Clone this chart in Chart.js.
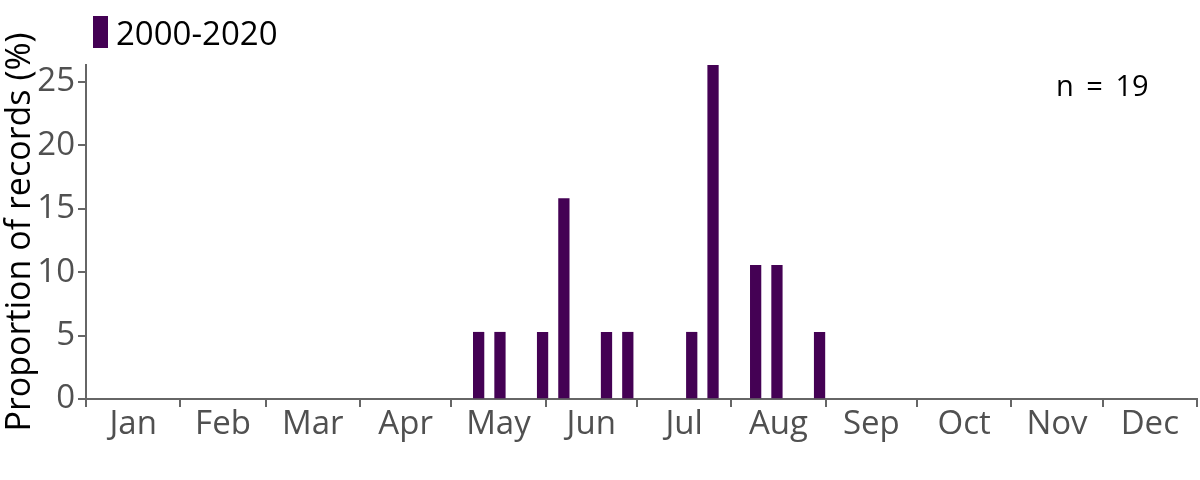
<!DOCTYPE html>
<html>
<head>
<meta charset="utf-8">
<script src="https://cdn.jsdelivr.net/npm/chart.js@4/dist/chart.umd.min.js"></script>
<style>
  html, body { margin: 0; padding: 0; background: #fff; }
  #wrap { width: 1200px; height: 480px; position: relative; }
</style>
</head>
<body>
<div id="wrap"><canvas id="c" width="1200" height="480"></canvas></div>
<script>
// ---- data ----
const seriesLabel = '2000-2020';
const sampleSize = 19;
// week of year (1-based) and proportion of records (%)
const weekNumbers = [19, 20, 22, 23, 25, 26, 29, 30, 32, 33, 35];
const proportions = [5.26, 5.26, 5.26, 15.79, 5.26, 5.26, 5.26, 26.32, 10.53, 10.53, 5.26];
const monthLabels = ['Jan','Feb','Mar','Apr','May','Jun','Jul','Aug','Sep','Oct','Nov','Dec'];
const monthDays = [31, 28, 31, 30, 31, 30, 31, 31, 30, 31, 30, 31];
const yTickValues = [0, 5, 10, 15, 20, 25];

// ---- derived ----
const weekMidDay = weekNumbers.map(w => (w - 1) * 7 + 3);
const points = weekMidDay.map((d, i) => ({ x: d, y: proportions[i] }));
const monthStarts = [0];
monthDays.forEach(d => monthStarts.push(monthStarts[monthStarts.length - 1] + d));
const xTicks = [];
const xTickLabels = [];
monthStarts.forEach((s, i) => {
  xTicks.push(s); xTickLabels.push('');
  if (i < monthDays.length) { xTicks.push(s + monthDays[i] / 2); xTickLabels.push(monthLabels[i]); }
});
const yMax = Math.max(...proportions);

const FONT = "'Open Sans', sans-serif";
const AXIS = '#666666';
const BAR = '#440154';

const overlayText = {
  id: 'overlayText',
  afterDraw(chart) {
    const ctx = chart.ctx;
    const ca = chart.chartArea;
    ctx.save();
    // legend
    ctx.fillStyle = BAR;
    ctx.fillRect(ca.left + 7, 16, 15, 32);
    ctx.fillStyle = '#000';
    ctx.font = "33px " + FONT;
    ctx.textBaseline = 'alphabetic';
    ctx.textAlign = 'left';
    ctx.fillText(chart.data.datasets[0].label, ca.left + 30, 45);
    // n annotation
    ctx.font = "29px " + FONT;
    ctx.textAlign = 'left';
    try { ctx.wordSpacing = '5px'; } catch (e) {}
    ctx.fillText('n = ' + sampleSize, ca.right - 141, 96);
    ctx.restore();
  }
};

new Chart(document.getElementById('c'), {
  type: 'bar',
  data: {
    datasets: [{
      label: seriesLabel,
      data: points,
      backgroundColor: BAR,
      borderWidth: 0,
      barThickness: 10.6
    }]
  },
  options: {
    responsive: false,
    animation: false,
    events: [],
    layout: { padding: { top: 65, right: 3, left: 0, bottom: 0 } },
    plugins: { legend: { display: false }, tooltip: { enabled: false } },
    scales: {
      x: {
        type: 'linear',
        min: 0,
        max: 365,
        offset: false,
        afterBuildTicks: s => { s.ticks = xTicks.map(v => ({ value: v })); },
        afterFit: s => { s.height = 81; },
        grid: {
          offset: false,
          drawOnChartArea: false,
          drawTicks: true,
          tickLength: 8,
          lineWidth: 2,
          color: ctx => (ctx.tick && xTickLabels[ctx.index] === '') ? AXIS : 'rgba(0,0,0,0)'
        },
        border: { display: true, color: AXIS, width: 2 },
        ticks: {
          autoSkip: false,
          maxRotation: 0,
          padding: -2,
          color: '#505050',
          font: { family: FONT, size: 33 },
          callback: (v, i) => xTickLabels[i]
        }
      },
      y: {
        min: 0,
        max: yMax,
        afterBuildTicks: s => { s.ticks = yTickValues.map(v => ({ value: v })); },
        afterFit: s => { s.width = 86; },
        grid: {
          drawOnChartArea: false,
          drawTicks: true,
          tickLength: 8,
          lineWidth: 2,
          color: AXIS
        },
        border: { display: true, color: AXIS, width: 2 },
        ticks: {
          padding: 3,
          color: '#505050',
          font: { family: FONT, size: 33 }
        },
        title: {
          display: true,
          text: 'Proportion of records (%)',
          color: '#000',
          font: { family: FONT, size: 34 },
          padding: { top: 0, bottom: 0 }
        }
      }
    }
  },
  plugins: [overlayText]
});
</script>
</body>
</html>
